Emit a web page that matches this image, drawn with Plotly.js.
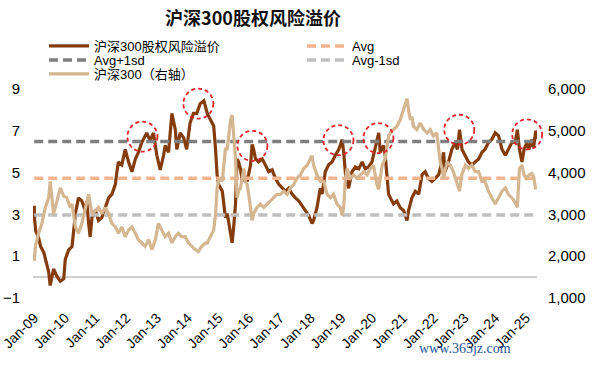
<!DOCTYPE html>
<html>
<head>
<meta charset="utf-8">
<script src="https://cdn.plot.ly/plotly-3.0.1.min.js"></script>
<style>html,body{margin:0;padding:0;background:#fff;}#chart{width:600px;height:365px;}</style>
</head>
<body>
<div id="chart"></div>
<script>
// ---- data (decimal year) ----
const erpYears = [2009.0,2009.01,2009.05,2009.14,2009.21,2009.31,2009.47,2009.52,2009.63,2009.73,2009.85,2009.96,2010.01,2010.12,2010.23,2010.28,2010.34,2010.44,2010.55,2010.66,2010.71,2010.77,2010.82,2010.88,2010.99,2011.09,2011.2,2011.31,2011.42,2011.53,2011.64,2011.69,2011.74,2011.85,2011.96,2012.07,2012.18,2012.29,2012.39,2012.5,2012.66,2012.77,2012.88,2012.99,2013.1,2013.21,2013.26,2013.37,2013.48,2013.59,2013.64,2013.75,2013.86,2013.96,2014.07,2014.18,2014.29,2014.4,2014.52,2014.63,2014.73,2014.84,2014.9,2014.95,2015.0,2015.06,2015.12,2015.17,2015.22,2015.28,2015.33,2015.44,2015.49,2015.55,2015.6,2015.65,2015.71,2015.77,2015.82,2015.93,2016.04,2016.09,2016.14,2016.2,2016.3,2016.42,2016.52,2016.63,2016.74,2016.85,2016.96,2017.07,2017.17,2017.28,2017.39,2017.5,2017.61,2017.72,2017.82,2017.93,2018.04,2018.09,2018.2,2018.31,2018.37,2018.47,2018.58,2018.69,2018.8,2018.91,2019.02,2019.07,2019.13,2019.23,2019.34,2019.45,2019.56,2019.67,2019.77,2019.88,2019.99,2020.1,2020.21,2020.26,2020.37,2020.42,2020.48,2020.53,2020.59,2020.69,2020.8,2020.91,2021.02,2021.13,2021.18,2021.29,2021.4,2021.51,2021.62,2021.72,2021.83,2021.94,2022.05,2022.16,2022.27,2022.32,2022.37,2022.48,2022.59,2022.7,2022.77,2022.84,2022.92,2023.03,2023.13,2023.24,2023.35,2023.46,2023.57,2023.67,2023.78,2023.89,2024.0,2024.11,2024.22,2024.33,2024.43,2024.54,2024.65,2024.72,2024.79,2024.87,2024.94,2025.03,2025.1,2025.19,2025.25,2025.32,2025.36];
const erpValues = [3.41,2.8,2.2,1.9,1.46,1.18,0.25,-0.4,0.39,0.06,-0.2,-0.08,0.85,1.3,1.46,2.25,3.04,3.79,3.64,3.18,3.64,2.57,1.92,2.85,3.18,2.71,2.85,3.32,3.79,3.97,4.44,5.04,5.51,5.37,6.11,5.51,5.04,5.65,5.97,6.44,6.9,6.53,6.9,5.83,5.13,5.83,6.3,5.97,7.83,7.05,6.11,6.9,6.67,6.11,7.37,7.83,7.83,8.3,8.44,7.83,7.51,7.23,6.11,4.9,4.44,4.25,4.11,3.5,2.85,3.04,2.57,1.64,2.39,3.5,5.65,5.51,5.18,4.58,4.9,4.58,5.37,6.35,6.11,5.65,5.51,5.65,5.37,5.04,5.13,4.72,4.44,4.25,4.11,4.25,3.97,3.79,3.64,3.41,3.18,2.95,2.57,2.71,3.32,4.25,3.97,5.04,5.37,5.51,5.83,6.11,6.58,5.97,4.9,4.25,5.04,5.27,5.18,5.51,5.18,5.27,5.51,6.3,6.9,5.97,6.3,5.83,4.58,3.97,3.79,3.5,3.64,3.32,3.18,2.71,3.18,3.79,4.11,3.97,4.9,5.04,4.72,4.58,4.72,4.9,5.51,5.97,5.04,5.51,6.11,6.44,6.11,7.05,6.11,5.83,5.51,5.37,5.51,5.65,5.97,6.11,6.44,6.58,6.9,6.76,6.11,5.83,6.11,6.44,6.44,7.05,6.11,5.51,6.11,6.44,6.11,6.58,6.2,7.0,6.6];

const csiYears = [2009.0,2009.04,2009.14,2009.25,2009.36,2009.47,2009.52,2009.63,2009.74,2009.85,2009.96,2010.06,2010.17,2010.23,2010.34,2010.44,2010.55,2010.66,2010.77,2010.88,2010.99,2011.09,2011.2,2011.31,2011.42,2011.53,2011.64,2011.74,2011.85,2011.96,2012.07,2012.18,2012.29,2012.39,2012.5,2012.61,2012.72,2012.83,2012.94,2013.04,2013.15,2013.26,2013.37,2013.48,2013.59,2013.69,2013.8,2013.91,2014.02,2014.13,2014.24,2014.34,2014.45,2014.56,2014.63,2014.73,2014.84,2014.9,2014.95,2015.0,2015.06,2015.12,2015.17,2015.22,2015.28,2015.33,2015.39,2015.44,2015.49,2015.55,2015.6,2015.65,2015.71,2015.77,2015.82,2015.87,2015.93,2015.98,2016.04,2016.09,2016.14,2016.25,2016.36,2016.47,2016.58,2016.69,2016.79,2016.9,2017.01,2017.12,2017.23,2017.34,2017.44,2017.55,2017.66,2017.77,2017.88,2017.99,2018.04,2018.09,2018.2,2018.31,2018.42,2018.53,2018.64,2018.74,2018.85,2018.96,2019.02,2019.07,2019.12,2019.18,2019.29,2019.39,2019.5,2019.61,2019.72,2019.83,2019.94,2020.04,2020.15,2020.21,2020.32,2020.42,2020.48,2020.53,2020.59,2020.69,2020.8,2020.91,2021.02,2021.13,2021.18,2021.24,2021.29,2021.34,2021.45,2021.56,2021.67,2021.78,2021.89,2021.99,2022.1,2022.16,2022.21,2022.27,2022.32,2022.43,2022.54,2022.64,2022.75,2022.84,2022.91,2023.03,2023.13,2023.24,2023.35,2023.46,2023.57,2023.67,2023.78,2023.89,2024.0,2024.11,2024.22,2024.33,2024.43,2024.54,2024.65,2024.72,2024.79,2024.87,2024.94,2025.03,2025.1,2025.19,2025.25,2025.32];
const csiValues = [1886,2236,2548,2780,3167,3400,3788,3013,3323,3633,3439,3400,3167,3246,2701,2548,2780,3167,3479,3013,3090,3167,3013,3167,3013,2780,2701,2548,2701,2468,2624,2701,2548,2392,2315,2236,2392,2159,2392,2780,2624,2468,2548,2315,2468,2548,2468,2468,2315,2236,2159,2112,2236,2315,2315,2468,2624,3013,3633,3788,3865,3788,4177,4564,4564,4876,5262,5378,4952,4331,3400,3556,3633,3865,4098,3788,3711,3479,3167,2857,3013,3167,3246,3167,3246,3323,3400,3479,3479,3556,3479,3633,3711,3865,3944,4098,4177,4331,4410,4177,3944,3788,3788,3479,3400,3479,3246,3167,2974,3167,3788,4098,3865,3944,3865,3944,4021,3944,4098,4177,3711,3600,4177,4331,4643,4876,4952,5029,5108,5262,5495,5767,5495,5262,5341,5108,5029,5185,5029,4952,5029,4876,4952,4564,4254,4098,3865,4254,4177,4021,3788,3556,3944,4177,4098,4177,4021,4021,3788,3788,3556,3400,3246,3400,3556,3633,3479,3400,3283,3167,4098,4177,3944,3865,3944,3982,3905,3595];

const avgValue = 4.73;
const avgPlus1sd = 6.49;
const avgMinus1sd = 2.97;

const xTickYears = [2009,2010,2011,2012,2013,2014,2015,2016,2017,2018,2019,2020,2021,2022,2023,2024,2025];
const xTickLabels = ['Jan-09','Jan-10','Jan-11','Jan-12','Jan-13','Jan-14','Jan-15','Jan-16','Jan-17','Jan-18','Jan-19','Jan-20','Jan-21','Jan-22','Jan-23','Jan-24','Jan-25'];
const leftTicks = [-1,1,3,5,7,9];
const rightTicks = [1000,2000,3000,4000,5000,6000];

// highlighted peaks (decimal year, ERP value)
const circleYears = [2012.52,2014.34,2016.1,2018.9,2020.2,2022.83,2025.04];
const circleValues = [6.72,8.3,6.28,6.55,6.65,7.05,6.83];

const names = ['沪深300股权风险溢价','Avg','Avg+1sd','Avg-1sd','沪深300（右轴）'];

// ---- chart ----
const xRange = [2008.96, 2025.36];
const yRange = [-1, 9];
const xStart = erpYears[0], xEnd = erpYears[erpYears.length-1];

const dash = '9px,5px';
const traces = [
  {x: erpYears, y: erpValues, name: names[0], type:'scatter', mode:'lines',
   line:{color:'#843C0C', width:3.2}, legend:'legend'},
  {x:[xStart,xEnd], y:[avgValue,avgValue], name:names[1], type:'scatter', mode:'lines',
   line:{color:'#F2B48E', width:3.5, dash:dash}, legend:'legend2'},
  {x:[xStart,xEnd], y:[avgPlus1sd,avgPlus1sd], name:names[2], type:'scatter', mode:'lines',
   line:{color:'#7F7F7F', width:3.5, dash:dash}, legend:'legend3'},
  {x:[xStart,xEnd], y:[avgMinus1sd,avgMinus1sd], name:names[3], type:'scatter', mode:'lines',
   line:{color:'#BFBFBF', width:3.5, dash:dash}, legend:'legend4'},
  {x: csiYears, y: csiValues, name: names[4], type:'scatter', mode:'lines', yaxis:'y2',
   line:{color:'#D4B690', width:3.2}, legend:'legend5'}
];

const shapes = circleYears.map((cx,i)=>({
  type:'circle', xref:'paper', yref:'paper',
  xsizemode:'pixel', ysizemode:'pixel',
  xanchor:(cx - xRange[0])/(xRange[1]-xRange[0]),
  yanchor:(circleValues[i] - yRange[0])/(yRange[1]-yRange[0]),
  x0:-15, x1:15, y0:-15, y1:15,
  line:{color:'#E3242B', width:1.8, dash:'4px,3px'}, layer:'above'
}));

const baseFont = 'Liberation Sans, Arial, Noto Sans CJK SC, sans-serif';
function legendAt(xPx, yPx){
  return {orientation:'h', xref:'container', yref:'container',
          x:xPx/600, xanchor:'left', y:1 - yPx/365, yanchor:'middle',
          itemwidth:40,
          font:{family:baseFont, size:13, color:'#000'}, bgcolor:'rgba(0,0,0,0)'};
}
const layout = {
  width:600, height:365,
  margin:{l:33, r:63, t:84, b:67},
  paper_bgcolor:'#fff', plot_bgcolor:'#fff',
  font:{family:baseFont, size:14, color:'#000'},
  title:{text:'沪深300股权风险溢价', x:253/600, xref:'container', xanchor:'center',
         y:1-19/365, yref:'container', yanchor:'middle',
         font:{family:'Noto Sans CJK SC, sans-serif', size:18, weight:700, color:'#111'}},
  showlegend:true,
  legend:legendAt(44,46),
  legend2:legendAt(302,46),
  legend3:legendAt(44,60),
  legend4:legendAt(302,60),
  legend5:legendAt(44,74),
  xaxis:{type:'linear', range:xRange, tickvals:xTickYears, ticktext:xTickLabels,
         tickangle:-45, showgrid:false, zeroline:false, showline:false, ticks:'',
         tickfont:{size:14, color:'#000'}, ticklabelstandoff:8, ticklabeloverflow:'allow'},
  yaxis:{range:yRange, tickvals:leftTicks, showgrid:false, zeroline:true,
         zerolinecolor:'#D0D0D0', zerolinewidth:2, showline:false, ticks:'',
         tickfont:{size:15, color:'#000'}, ticklabelstandoff:12},
  yaxis2:{range:[1000,6000], tickvals:rightTicks, tickformat:',', overlaying:'y', side:'right',
          showgrid:false, zeroline:false, showline:false, ticks:'',
          tickfont:{size:15, color:'#000'}, ticklabelstandoff:10},
  shapes:shapes,
  annotations:[{text:'www.365jz.com', xref:'paper', yref:'paper', x:(513-33)/504, y:(298-350)/214,
    xanchor:'right', yanchor:'middle', showarrow:false,
    font:{family:'Liberation Serif, serif', size:14, color:'#2855A0'}}]
};

Plotly.newPlot('chart', traces, layout, {displayModeBar:false, staticPlot:true});
</script>
</body>
</html>
